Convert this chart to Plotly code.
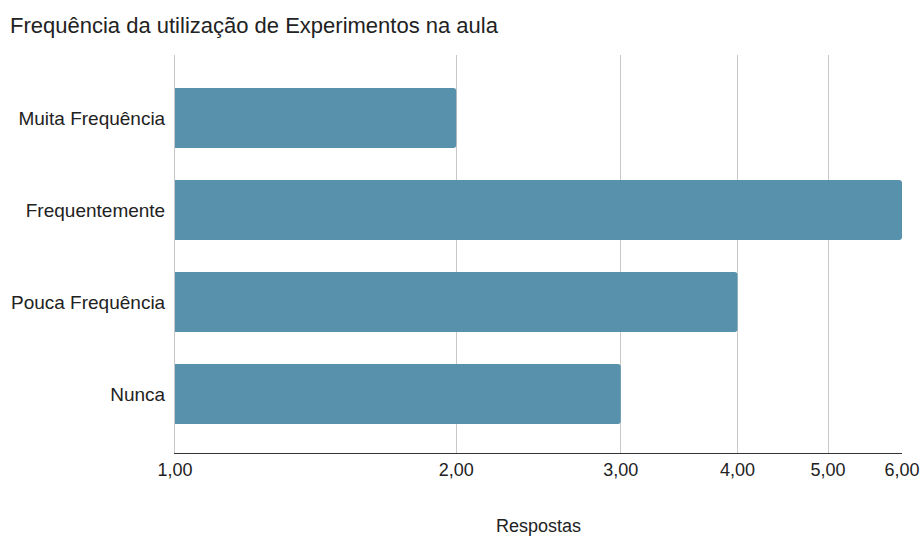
import math
import plotly.graph_objects as go

categories = ["Muita Frequência", "Frequentemente", "Pouca Frequência", "Nunca"]
values = [2, 6, 4, 3]
tick_vals = [1, 2, 3, 4, 5, 6]

fig = go.Figure(go.Bar(
    x=values, y=categories, orientation="h",
    marker=dict(color="#5791ab", cornerradius=3, line=dict(width=0)),
))

fig.update_layout(
    width=923, height=536,
    separators=",.",
    paper_bgcolor="white", plot_bgcolor="white",
    margin=dict(l=175, r=21, t=55, b=83),
    font=dict(family="Liberation Sans, Arial, sans-serif", size=18, color="#222222"),
    title=dict(text="Frequência da utilização de Experimentos na aula",
               x=10/923, xanchor="left", y=1-25/536, yanchor="middle",
               font=dict(size=22, color="#222222")),
    bargap=0.348,
    showlegend=False,
)
fig.update_xaxes(
    type="log", range=[0, math.log10(6)], automargin=False,
    tickvals=tick_vals, tickformat=".2f",
    showgrid=True, gridcolor="#c8c8c8", gridwidth=1,
    showline=True, linecolor="#333333", linewidth=1,
    zeroline=False, ticks="",
    tickfont=dict(size=18, color="#222222"),
    title=dict(text="Respostas", font=dict(size=18, color="#222222"), standoff=41),
)
fig.update_yaxes(
    categoryorder="array", categoryarray=categories, automargin=False,
    range=[3.64, -0.685],
    showgrid=False, showline=True, linecolor="#c8c8c8", linewidth=1,
    zeroline=False, ticks="", ticklabelstandoff=5,
    tickfont=dict(size=19, color="#222222"),
)

fig.write_html("out.html", config={"displayModeBar": False},
               post_script="document.body.style.margin='0';")
